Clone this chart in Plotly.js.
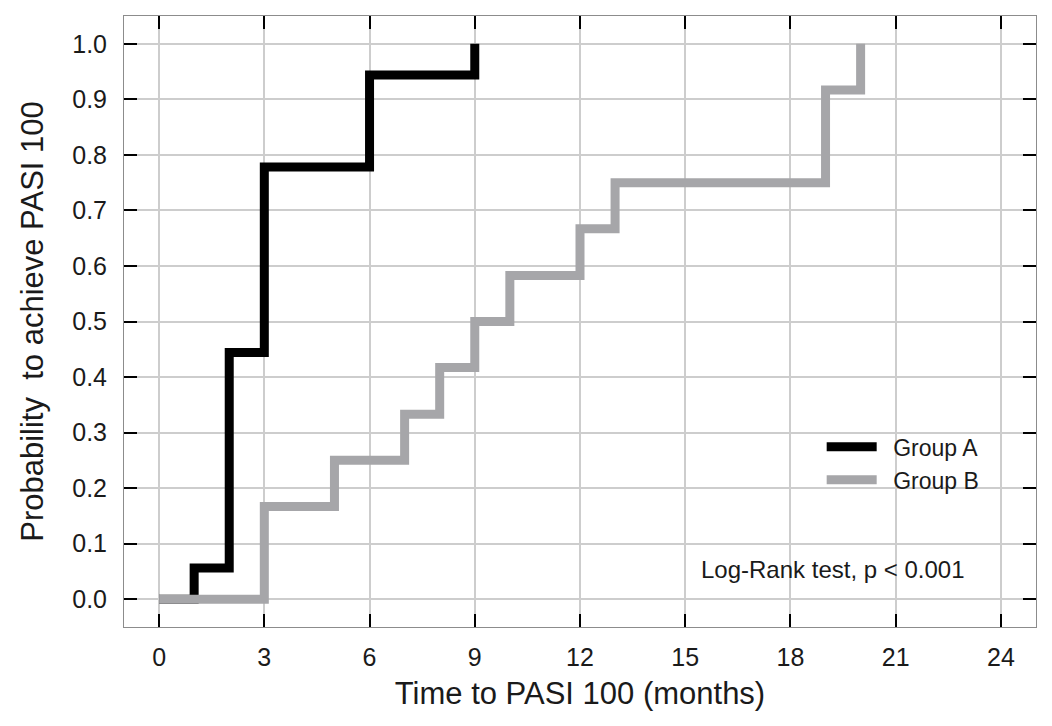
<!DOCTYPE html>
<html>
<head>
<meta charset="utf-8">
<script src="https://cdn.plot.ly/plotly-3.0.1.min.js"></script>
<style>html,body{margin:0;padding:0;background:#fff;}#chart{width:1052px;height:726px;}</style>
</head>
<body>
<div id="chart"></div>
<script>
// Kaplan-Meier style cumulative probability of achieving PASI 100
const groupA_months = [0, 1, 2, 3, 6, 9];
const groupA_prob   = [0, 0.056, 0.444, 0.778, 0.944, 1.0];
const groupB_months = [0, 3, 5, 7, 8, 9, 10, 12, 13, 19, 20];
const groupB_prob   = [0, 0.167, 0.25, 0.333, 0.417, 0.5, 0.583, 0.667, 0.75, 0.917, 1.0];
const seriesNames = ["Group A", "Group B"];
const xTicks = [0, 3, 6, 9, 12, 15, 18, 21, 24];
const yTicks = [0, 0.1, 0.2, 0.3, 0.4, 0.5, 0.6, 0.7, 0.8, 0.9, 1.0];
const annotationText = "Log-Rank test, p < 0.001";

const FONT = '"Liberation Sans", Arial, sans-serif';

const traces = [
  {x: groupA_months, y: groupA_prob, name: '\u2002' + seriesNames[0], mode: 'lines',
   line: {shape: 'hv', color: '#000000', width: 9}},
  {x: groupB_months, y: groupB_prob, name: '\u2002' + seriesNames[1], mode: 'lines',
   line: {shape: 'hv', color: '#a6a6a9', width: 9}}
];

const axisCommon = {
  showgrid: true, gridcolor: '#cdcdcd', gridwidth: 2,
  zeroline: false, showline: true, linecolor: '#8c8c8c', linewidth: 1,
  mirror: 'ticks', ticks: 'inside', ticklen: 13, tickwidth: 2, tickcolor: '#000000',
  tickfont: {family: FONT, size: 25, color: '#1a1a1a'}
};

const layout = {
  width: 1052, height: 726,
  margin: {l: 124, r: 16, t: 16, b: 99},
  paper_bgcolor: '#ffffff', plot_bgcolor: '#ffffff',
  font: {family: FONT, color: '#1a1a1a'},
  showlegend: true,
  legend: {x: 0.765, y: 0.33, xanchor: 'left', yanchor: 'top', itemwidth: 50,
           bgcolor: 'rgba(0,0,0,0)', font: {family: FONT, size: 23, color: '#1a1a1a'}},
  xaxis: Object.assign({}, axisCommon, {
    range: [-1, 25], tickmode: 'array', tickvals: xTicks, ticklabelstandoff: 8,
    title: {text: 'Time to PASI 100 (months)', font: {family: FONT, size: 31, color: '#1a1a1a'}, standoff: 12}
  }),
  yaxis: Object.assign({}, axisCommon, {
    range: [-0.05, 1.05], tickmode: 'array', tickvals: yTicks, tickformat: '.1f', ticklabelstandoff: 11,
    title: {text: 'Probability\u00a0 to achieve PASI 100', font: {family: FONT, size: 31, color: '#1a1a1a'}, standoff: 19}
  }),
  annotations: [{
    x: 19.2, y: 0.054, xref: 'x', yref: 'y', text: annotationText, showarrow: false,
    font: {family: FONT, size: 24, color: '#1a1a1a'}
  }]
};

Plotly.newPlot('chart', traces, layout, {displayModeBar: false, staticPlot: true});
</script>
</body>
</html>
